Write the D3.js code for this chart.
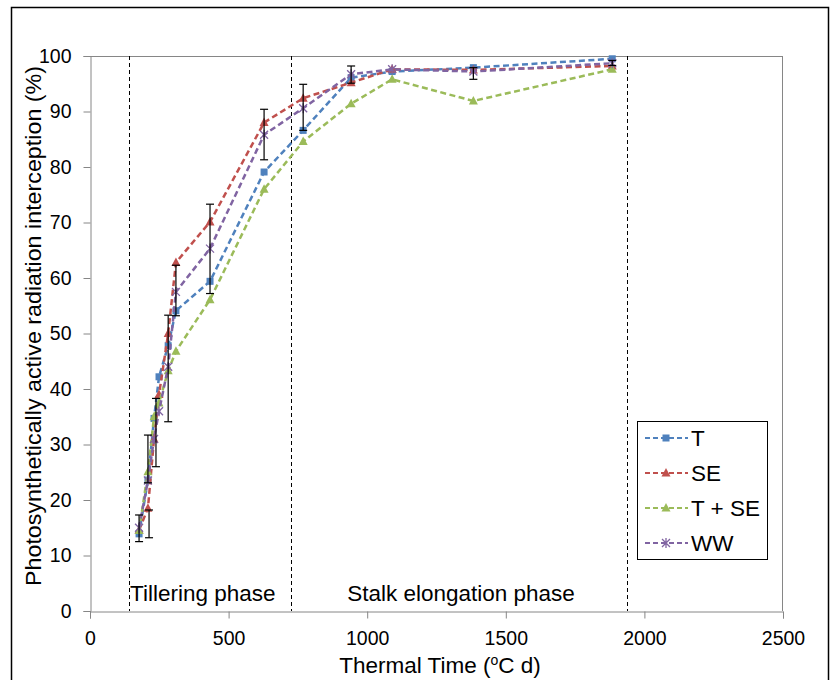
<!DOCTYPE html>
<html><head><meta charset="utf-8">
<script src="https://cdn.jsdelivr.net/npm/d3@7"></script>
<style>body{margin:0;background:#fff;} svg{display:block;font-family:"Liberation Sans",Arial,sans-serif;}</style>
</head><body>
<svg id="c" width="831" height="680"></svg>
<script>
// Thermal time (°C d) of each sampling
const thermalTime = [177, 209, 231, 249, 282, 310, 433, 628, 769, 942, 1090, 1383, 1884];
const seriesT   = [13.9, 23.6, 34.7, 42.2, 47.8, 54.1, 59.4, 79.1, 86.6, 96.1, 97.2, 97.9, 99.5];
const seriesSE  = [14.6, 18.5, 31.0, 39.0, 50.0, 62.8, 70.1, 88.0, 92.4, 95.2, 97.6, 97.5, 98.2];
const seriesTSE = [14.5, 25.1, 35.0, 37.5, 43.3, 46.8, 56.1, 76.0, 84.6, 91.4, 95.8, 91.9, 97.6];
const seriesWW  = [15.0, 23.5, 31.0, 36.0, 44.0, 57.5, 65.3, 85.8, 90.6, 96.7, 97.6, 97.2, 98.7];
const seriesNames = ["T", "SE", "T + SE", "WW"];
// Error bars (thermal time, lower, upper)
const errTT   = [177, 209, 213, 238, 282, 310, 433, 628, 769, 942, 1383, 1884];
const errLow  = [12.5, 23.1, 13.2, 26.0, 34.1, 53.2, 57.2, 81.3, 86.6, 95.1, 95.8, 98.3];
const errHigh = [17.3, 31.7, 18.2, 38.3, 53.3, 62.3, 73.3, 90.4, 94.9, 98.2, 97.9, 99.2];
// Phase boundaries (thermal time)
const phaseLines = [141, 726, 1939];
const phaseLabels = ["Tillering phase", "Stalk elongation phase"];
const xTicks = [0, 500, 1000, 1500, 2000, 2500];
const yTicks = [0, 10, 20, 30, 40, 50, 60, 70, 80, 90, 100];

const svg = d3.select("#c");
const L = 90, R = 783, T0 = 56, B = 611;
const x = d3.scaleLinear().domain([0, 2500]).range([L, R]);
const y = d3.scaleLinear().domain([0, 100]).range([B, T0]);

// outer frame
svg.append("rect").attr("x", 11.5).attr("y", 7.5).attr("width", 817).attr("height", 680)
  .attr("fill", "none").attr("stroke", "#000").attr("stroke-width", 1.5);

// plot frame top/right
svg.append("line").attr("x1", L).attr("x2", R).attr("y1", T0 + 0.5).attr("y2", T0 + 0.5).attr("stroke", "#868686");
svg.append("line").attr("x1", R - 0.5).attr("x2", R - 0.5).attr("y1", T0).attr("y2", B).attr("stroke", "#868686");

// axes
const yAxis = svg.append("g").attr("transform", `translate(${L + 0.5},0)`)
  .call(d3.axisLeft(y).tickValues(yTicks).tickSize(7).tickPadding(12));
const xAxis = svg.append("g").attr("transform", `translate(0,${B + 0.5})`)
  .call(d3.axisBottom(x).tickValues(xTicks).tickSize(7).tickPadding(13).tickFormat(d3.format("d")));
[yAxis, xAxis].forEach(g => {
  g.selectAll("path,line").attr("stroke", "#868686");
  g.selectAll("text").attr("font-size", 19.5).attr("fill", "#000").attr("font-family", "Liberation Sans, Arial");
});

// phase dashed lines
svg.selectAll(".phase").data(phaseLines).enter().append("line")
  .attr("x1", d => Math.round(x(d)) + 0.5).attr("x2", d => Math.round(x(d)) + 0.5)
  .attr("y1", T0).attr("y2", B).attr("stroke", "#000").attr("stroke-width", 1)
  .attr("stroke-dasharray", "4,3");
svg.append("text").attr("x", x(phaseLines[0]) + 1).attr("y", 601).attr("font-size", 22.5).text(phaseLabels[0]);
svg.append("text").attr("x", 461).attr("y", 601)
  .attr("text-anchor", "middle").attr("font-size", 22.5).text(phaseLabels[1]);

const colors = ["#4F81BD", "#C0504D", "#9BBB59", "#8064A2"];
const allSeries = [seriesT, seriesSE, seriesTSE, seriesWW];
const markers = ["square", "triangle", "triangle", "star"];

function drawMarker(g, type, cx, cy, color) {
  if (type === "square") {
    g.append("rect").attr("x", cx - 3.5).attr("y", cy - 3.5).attr("width", 7).attr("height", 7).attr("fill", color);
  } else if (type === "triangle") {
    g.append("path").attr("d", `M${cx},${cy - 5}L${cx + 4.5},${cy + 3.5}L${cx - 4.5},${cy + 3.5}Z`).attr("fill", color);
  } else {
    const s = 4;
    g.append("path").attr("d", `M${cx - s},${cy - s}L${cx + s},${cy + s}M${cx - s},${cy + s}L${cx + s},${cy - s}M${cx},${cy - s - 1}L${cx},${cy + s + 1}`)
      .attr("stroke", color).attr("stroke-width", 1.3).attr("fill", "none");
  }
}

const line = d3.line().x(d => x(d[0])).y(d => y(d[1]));
allSeries.forEach((vals, i) => {
  const g = svg.append("g");
  const pts = thermalTime.map((t, j) => [t, vals[j]]);
  g.append("path").attr("d", line(pts)).attr("fill", "none").attr("stroke", colors[i])
    .attr("stroke-width", 2.5).attr("stroke-dasharray", "6,3.5");
  pts.forEach(p => drawMarker(g, markers[i], x(p[0]), y(p[1]), colors[i]));
});

// error bars
const eg = svg.append("g").attr("stroke", "#000").attr("stroke-width", 1.2);
errTT.forEach((t, i) => {
  const cx = x(t);
  eg.append("line").attr("x1", cx).attr("x2", cx).attr("y1", y(errLow[i])).attr("y2", y(errHigh[i]));
  eg.append("line").attr("x1", cx - 4).attr("x2", cx + 4).attr("y1", y(errLow[i])).attr("y2", y(errLow[i]));
  eg.append("line").attr("x1", cx - 4).attr("x2", cx + 4).attr("y1", y(errHigh[i])).attr("y2", y(errHigh[i]));
});

// axis titles
svg.append("text").attr("transform", "translate(41,326) rotate(-90)").attr("text-anchor", "middle")
  .attr("font-size", 22.5).attr("textLength", 520).attr("lengthAdjust", "spacingAndGlyphs")
  .text("Photosynthetically active radiation interception (%)");
const xt = svg.append("text").attr("x", 440).attr("y", 673).attr("text-anchor", "middle").attr("font-size", 22.5);
xt.append("tspan").text("Thermal Time (");
xt.append("tspan").attr("font-size", 14).attr("dy", -8).text("o");
xt.append("tspan").attr("dy", 8).text("C d)");

// legend
const lg = svg.append("g");
lg.append("rect").attr("x", 637.5).attr("y", 421.5).attr("width", 130).attr("height", 138)
  .attr("fill", "#fff").attr("stroke", "#000").attr("stroke-width", 1);
seriesNames.forEach((n, i) => {
  const ly = 438 + i * 35;
  lg.append("line").attr("x1", 645).attr("x2", 688).attr("y1", ly).attr("y2", ly)
    .attr("stroke", colors[i]).attr("stroke-width", 2).attr("stroke-dasharray", "5,3");
  drawMarker(lg, markers[i], 666, ly, colors[i]);
  lg.append("text").attr("x", 691).attr("y", ly + 8).attr("font-size", 22.5).text(n);
});
</script>
</body></html>
